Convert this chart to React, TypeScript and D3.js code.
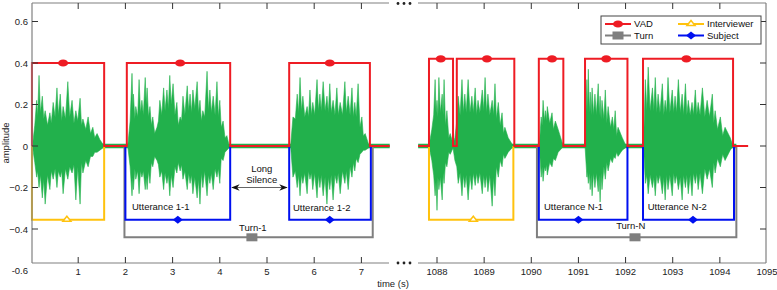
import React from 'react';
import * as d3 from 'd3';

// ---------- tick labels ----------
const leftTicks = [1, 2, 3, 4, 5, 6, 7];
const rightTicks = [1088, 1089, 1090, 1091, 1092, 1093, 1094, 1095];
const yTicks = [0.6, 0.4, 0.2, 0, -0.2, -0.4];
const yCornerLabel = -0.6;

// ---------- waveform envelopes [t, upper, lower] ----------
const waveL1: [number, number, number][] = [
  [0.03, 0, 0], [0.08, 0.1, -0.08], [0.12, 0.22, -0.15], [0.14, 0.14, -0.12], [0.17, 0.34, -0.2], [0.2, 0.16, -0.14],
  [0.24, 0.24, -0.25], [0.27, 0.13, -0.16], [0.3, 0.17, -0.28], [0.35, 0.1, -0.14], [0.4, 0.16, -0.21], [0.43, 0.11, -0.12],
  [0.47, 0.21, -0.16], [0.51, 0.14, -0.11], [0.55, 0.28, -0.2], [0.58, 0.15, -0.12], [0.62, 0.25, -0.15], [0.65, 0.12, -0.12],
  [0.68, 0.19, -0.23], [0.73, 0.13, -0.11], [0.78, 0.31, -0.16], [0.82, 0.14, -0.1], [0.87, 0.22, -0.13], [0.91, 0.11, -0.09],
  [0.95, 0.17, -0.26], [0.99, 0.12, -0.1], [1.04, 0.23, -0.28], [1.07, 0.1, -0.08], [1.1, 0.13, -0.13], [1.16, 0.08, -0.07],
  [1.21, 0.14, -0.1], [1.26, 0.06, -0.05], [1.31, 0.09, -0.05], [1.35, 0.04, -0.03], [1.4, 0.06, -0.03], [1.46, 0.03, -0.02],
  [1.52, 0.01, -0.01],
];
const waveL2: [number, number, number][] = [
  [2.05, 0, 0], [2.1, 0.12, -0.1], [2.14, 0.35, -0.24], [2.16, 0.18, -0.15], [2.17, 0.25, -0.21], [2.2, 0.13, -0.11],
  [2.22, 0.19, -0.16], [2.26, 0.14, -0.12], [2.29, 0.32, -0.23], [2.32, 0.16, -0.12], [2.35, 0.22, -0.15], [2.38, 0.15, -0.12],
  [2.42, 0.33, -0.21], [2.44, 0.2, -0.15], [2.46, 0.28, -0.21], [2.49, 0.14, -0.12], [2.52, 0.19, -0.18], [2.55, 0.1, -0.08],
  [2.58, 0.14, -0.1], [2.62, 0.06, -0.05], [2.67, 0.09, -0.07], [2.7, 0.12, -0.09], [2.73, 0.22, -0.15], [2.77, 0.15, -0.12],
  [2.81, 0.28, -0.21], [2.84, 0.17, -0.13], [2.88, 0.27, -0.18], [2.91, 0.18, -0.14], [2.94, 0.34, -0.24], [2.97, 0.2, -0.14],
  [3.01, 0.3, -0.2], [3.05, 0.15, -0.1], [3.09, 0.21, -0.13], [3.12, 0.1, -0.08], [3.16, 0.14, -0.12], [3.19, 0.12, -0.09],
  [3.22, 0.24, -0.16], [3.26, 0.15, -0.12], [3.31, 0.29, -0.21], [3.34, 0.17, -0.13], [3.37, 0.25, -0.18], [3.4, 0.16, -0.14],
  [3.43, 0.27, -0.23], [3.47, 0.18, -0.15], [3.52, 0.31, -0.25], [3.55, 0.16, -0.16], [3.58, 0.22, -0.28], [3.61, 0.12, -0.13],
  [3.64, 0.17, -0.2], [3.68, 0.14, -0.12], [3.73, 0.36, -0.24], [3.76, 0.17, -0.14], [3.79, 0.27, -0.18], [3.82, 0.16, -0.13],
  [3.86, 0.24, -0.21], [3.9, 0.15, -0.11], [3.94, 0.31, -0.15], [3.97, 0.14, -0.11], [4.0, 0.22, -0.18], [4.03, 0.09, -0.06],
  [4.07, 0.12, -0.07], [4.11, 0.04, -0.03], [4.15, 0.05, -0.02], [4.19, 0.01, -0.01],
];
const waveL3: [number, number, number][] = [
  [5.5, 0, 0], [5.55, 0.14, -0.15], [5.6, 0.13, -0.12], [5.64, 0.25, -0.2], [5.67, 0.16, -0.14], [5.7, 0.33, -0.24],
  [5.73, 0.17, -0.14], [5.76, 0.24, -0.18], [5.8, 0.14, -0.13], [5.85, 0.19, -0.23], [5.88, 0.14, -0.12], [5.91, 0.27, -0.16],
  [5.94, 0.15, -0.13], [5.97, 0.21, -0.21], [6.01, 0.15, -0.13], [6.06, 0.32, -0.25], [6.09, 0.17, -0.14], [6.12, 0.25, -0.2],
  [6.15, 0.17, -0.14], [6.19, 0.31, -0.24], [6.23, 0.17, -0.15], [6.27, 0.24, -0.28], [6.3, 0.16, -0.15], [6.33, 0.3, -0.21],
  [6.36, 0.16, -0.14], [6.4, 0.22, -0.26], [6.44, 0.15, -0.14], [6.48, 0.28, -0.18], [6.51, 0.15, -0.13], [6.55, 0.21, -0.23],
  [6.6, 0.15, -0.12], [6.65, 0.31, -0.18], [6.68, 0.16, -0.12], [6.72, 0.24, -0.21], [6.76, 0.15, -0.1], [6.8, 0.28, -0.15],
  [6.83, 0.14, -0.08], [6.86, 0.21, -0.12], [6.89, 0.14, -0.06], [6.93, 0.3, -0.08], [6.97, 0.09, -0.04], [7.01, 0.14, -0.03],
  [7.04, 0.05, -0.02], [7.08, 0.06, -0.02], [7.15, 0.01, -0.01],
];
const waveR1: [number, number, number][] = [
  [1087.83, 0, 0], [1087.89, 0.08, -0.07], [1087.93, 0.15, -0.14], [1087.96, 0.32, -0.24], [1087.98, 0.16, -0.17],
  [1088.0, 0.22, -0.31], [1088.02, 0.14, -0.15], [1088.04, 0.33, -0.21], [1088.07, 0.16, -0.15], [1088.11, 0.25, -0.26],
  [1088.13, 0.15, -0.13], [1088.15, 0.32, -0.18], [1088.18, 0.1, -0.08], [1088.21, 0.17, -0.1], [1088.25, 0.04, -0.03],
  [1088.28, 0.06, -0.04], [1088.34, 0.01, -0.01], [1088.38, 0.04, -0.07], [1088.42, 0.12, -0.1], [1088.45, 0.24, -0.18],
  [1088.49, 0.15, -0.13], [1088.53, 0.32, -0.24], [1088.56, 0.16, -0.14], [1088.59, 0.25, -0.2], [1088.62, 0.16, -0.14],
  [1088.66, 0.32, -0.26], [1088.7, 0.16, -0.14], [1088.74, 0.24, -0.21], [1088.77, 0.16, -0.13], [1088.81, 0.28, -0.19],
  [1088.84, 0.15, -0.13], [1088.87, 0.22, -0.18], [1088.91, 0.16, -0.13], [1088.96, 0.27, -0.23], [1088.99, 0.17, -0.14],
  [1089.02, 0.33, -0.2], [1089.05, 0.16, -0.14], [1089.08, 0.25, -0.22], [1089.12, 0.15, -0.14], [1089.17, 0.22, -0.29],
  [1089.2, 0.15, -0.15], [1089.23, 0.3, -0.24], [1089.26, 0.13, -0.1], [1089.3, 0.21, -0.15], [1089.34, 0.1, -0.07],
  [1089.38, 0.16, -0.1], [1089.41, 0.06, -0.04], [1089.44, 0.09, -0.06], [1089.51, 0.04, -0.03], [1089.59, 0.01, -0.01],
];
const waveR2: [number, number, number][] = [
  [1090.17, 0, 0], [1090.21, 0.14, -0.15], [1090.23, 0.1, -0.1], [1090.25, 0.22, -0.17], [1090.28, 0.12, -0.1],
  [1090.3, 0.17, -0.12], [1090.32, 0.12, -0.09], [1090.34, 0.19, -0.14], [1090.39, 0.11, -0.08], [1090.44, 0.16, -0.1],
  [1090.47, 0.08, -0.06], [1090.51, 0.12, -0.07], [1090.57, 0.08, -0.03], [1090.65, 0.02, -0.01], [1090.69, 0, 0],
];
const waveR3: [number, number, number][] = [
  [1091.14, 0, 0], [1091.18, 0.32, -0.15], [1091.19, 0.16, -0.12], [1091.21, 0.37, -0.18], [1091.23, 0.16, -0.13],
  [1091.25, 0.26, -0.21], [1091.27, 0.15, -0.14], [1091.29, 0.28, -0.24], [1091.32, 0.15, -0.13], [1091.35, 0.25, -0.2],
  [1091.38, 0.15, -0.13], [1091.42, 0.3, -0.22], [1091.44, 0.15, -0.14], [1091.46, 0.24, -0.27], [1091.48, 0.13, -0.13],
  [1091.5, 0.22, -0.21], [1091.54, 0.13, -0.1], [1091.57, 0.27, -0.16], [1091.6, 0.11, -0.08], [1091.63, 0.19, -0.12],
  [1091.68, 0.09, -0.06], [1091.72, 0.14, -0.08], [1091.75, 0.08, -0.05], [1091.78, 0.17, -0.06], [1091.81, 0.05, -0.03],
  [1091.84, 0.09, -0.05], [1091.93, 0.04, -0.02], [1091.99, 0.01, -0.01],
];
const waveR4: [number, number, number][] = [
  [1092.38, 0, 0], [1092.42, 0.32, -0.18], [1092.45, 0.17, -0.14], [1092.48, 0.38, -0.23], [1092.52, 0.17, -0.14],
  [1092.57, 0.28, -0.2], [1092.6, 0.17, -0.15], [1092.63, 0.33, -0.24], [1092.66, 0.16, -0.14], [1092.69, 0.25, -0.18],
  [1092.73, 0.16, -0.14], [1092.78, 0.3, -0.23], [1092.81, 0.15, -0.15], [1092.84, 0.22, -0.26], [1092.87, 0.16, -0.14],
  [1092.9, 0.33, -0.21], [1092.94, 0.16, -0.14], [1092.99, 0.27, -0.24], [1093.02, 0.16, -0.13], [1093.05, 0.24, -0.18],
  [1093.08, 0.16, -0.14], [1093.12, 0.32, -0.21], [1093.16, 0.16, -0.15], [1093.2, 0.25, -0.26], [1093.23, 0.15, -0.14],
  [1093.27, 0.3, -0.2], [1093.3, 0.15, -0.14], [1093.33, 0.22, -0.23], [1093.37, 0.15, -0.14], [1093.41, 0.21, -0.24],
  [1093.44, 0.15, -0.13], [1093.48, 0.27, -0.18], [1093.51, 0.15, -0.13], [1093.54, 0.21, -0.21], [1093.58, 0.15, -0.13],
  [1093.63, 0.28, -0.23], [1093.68, 0.14, -0.11], [1093.73, 0.22, -0.16], [1093.78, 0.14, -0.11], [1093.84, 0.25, -0.2],
  [1093.87, 0.11, -0.08], [1093.9, 0.17, -0.13], [1093.95, 0.08, -0.06], [1094.01, 0.14, -0.1], [1094.06, 0.05, -0.04],
  [1094.11, 0.09, -0.07], [1094.22, 0.04, -0.02], [1094.28, 0, 0],
];
const noiseLeft = [0.0, 7.6];
const noiseRight = [1087.6, 1094.35];
const noiseAmp = 0.011;

// ---------- VAD ----------
const vadLeft = [[0.02, 1.55], [2.03, 4.22], [5.47, 7.18]];
const vadLeftLevel = 0.4;
const vadLeftMarkers = [0.68, 3.16, 6.33];
const vadLeftExtent = [0.02, 7.6];
const vadRight = [[1087.83, 1088.34], [1088.42, 1089.64], [1090.16, 1090.68], [1091.14, 1092.04], [1092.37, 1094.28]];
const vadRightLevel = 0.42;
const vadRightMarkers = [1088.08, 1089.06, 1090.44, 1091.59, 1093.29];
const vadRightExtent = [1087.6, 1094.6];

// ---------- Interviewer ----------
const interLeft = [[0.02, 1.55]];
const interLeftMarkers = [0.76];
const interRight = [[1087.83, 1089.62]];
const interRightMarkers = [1088.77];
const interLevel = -0.355;

// ---------- Subject ----------
const subjLeft = [[2.0, 4.22], [5.47, 7.2]];
const subjLeftMarkers = [3.11, 6.33];
const subjRight = [[1090.16, 1092.04], [1092.37, 1094.3]];
const subjRightMarkers = [1091.0, 1093.43];
const subjLevel = -0.355;

// ---------- Turn ----------
const turnLeft = [[1.98, 7.24]];
const turnLeftMarkers = [4.68];
const turnRight = [[1090.12, 1094.35]];
const turnRightMarkers = [1092.2];
const turnLevel = -0.44;

// ---------- annotations ----------
const uttLabelsLeft = [{ t: 2.14, v: -0.293, text: 'Utterance 1-1' }, { t: 5.55, v: -0.298, text: 'Utterance 1-2' }];
const uttLabelsRight = [{ t: 1090.27, v: -0.293, text: 'Utterance N-1' }, { t: 1092.47, v: -0.293, text: 'Utterance N-2' }];
const turnLabelLeft = { t: 4.7, v: -0.392, text: 'Turn-1' };
const turnLabelRight = { t: 1092.11, v: -0.385, text: 'Turn-N' };
const silence = { t0: 4.26, t1: 5.42, v: -0.2, tText: 4.89, lines: ['Long', 'Silence'], v1: -0.11, v2: -0.163 };

const legendItems = [
  { name: 'VAD', col: 0, row: 0 },
  { name: 'Turn', col: 0, row: 1 },
  { name: 'Interviewer', col: 1, row: 0 },
  { name: 'Subject', col: 1, row: 1 },
];

const RED = '#ee1c24';
const BLUE = '#0010f0';
const YELLOW = '#ffc20e';
const GRAY = '#7f7f7f';
const GREEN = '#22b14c';
const AXIS = '#808080';
const FONT = 'Liberation Sans, Arial, sans-serif';

const W = 777, H = 290;
const yTop = 3, yBottom = 263;
const xs = d3.scaleLinear().domain([0, 7]).range([31, 361.4]);
const xr = d3.scaleLinear().domain([1088, 1095]).range([437, 767]);
const ys = d3.scaleLinear().domain([0, 0.4]).range([146, 63]);
const leftX0 = 32, leftX1 = 389, rightX0 = 418, rightX1 = 766;

function stepPts(intervals: number[][], level: number, extent?: number[]) {
  const pts: [number, number][] = [];
  if (extent) pts.push([extent[0], 0]);
  intervals.forEach(([a, b]) => {
    pts.push([a, 0], [a, level], [b, level], [b, 0]);
  });
  if (extent) pts.push([extent[1], 0]);
  return pts;
}

function Marker({ kind, x, y }: { kind: string; x: number; y: number }) {
  if (kind === 'VAD') return <ellipse cx={x} cy={y} rx={5} ry={3.6} fill={RED} />;
  if (kind === 'Turn') return <rect x={x - 5.5} y={y - 4} width={11} height={8} fill={GRAY} />;
  if (kind === 'Interviewer')
    return <path d={`M${x - 4},${y + 1.5} L${x},${y - 3.5} L${x + 4},${y + 1.5} Z`} fill="#fff" stroke={YELLOW} strokeWidth={1.5} />;
  return <path d={`M${x - 5},${y} L${x},${y - 4} L${x + 5},${y} L${x},${y + 4} Z`} fill={BLUE} />;
}

function Panel({ x, waves, noise, vad, vadLevel, vadMarkers, vadExtent, inter, interMarkers, subj, subjMarkers, turn, turnMarkers }: any) {
  const line = d3.line<[number, number]>().x((d) => x(d[0])).y((d) => ys(d[1]));
  const area = d3.area<[number, number, number]>().x((d) => x(d[0])).y0((d) => ys(d[2])).y1((d) => ys(d[1]));
  const noiseData: [number, number, number][] = [[noise[0], noiseAmp, -noiseAmp], [noise[1], noiseAmp, -noiseAmp]];
  return (
    <g>
      <path d={area(noiseData) || ''} fill={GREEN} />
      {waves.map((w: any, i: number) => (
        <path key={i} d={area(w) || ''} fill={GREEN} stroke={GREEN} strokeWidth={0.6} />
      ))}
      {turn.map((iv: number[], i: number) => (
        <path key={'t' + i} d={line(stepPts([iv], turnLevel)) || ''} fill="none" stroke={GRAY} strokeWidth={2} />
      ))}
      {inter.map((iv: number[], i: number) => (
        <path key={'i' + i} d={line(stepPts([iv], interLevel)) || ''} fill="none" stroke={YELLOW} strokeWidth={2} />
      ))}
      {subj.map((iv: number[], i: number) => (
        <path key={'s' + i} d={line(stepPts([iv], subjLevel)) || ''} fill="none" stroke={BLUE} strokeWidth={2} />
      ))}
      <path d={line(stepPts(vad, vadLevel, vadExtent)) || ''} fill="none" stroke={RED} strokeWidth={2} />
      {turnMarkers.map((t: number, i: number) => <Marker key={'tm' + i} kind="Turn" x={x(t)} y={ys(turnLevel)} />)}
      {interMarkers.map((t: number, i: number) => <Marker key={'im' + i} kind="Interviewer" x={x(t)} y={ys(interLevel)} />)}
      {subjMarkers.map((t: number, i: number) => <Marker key={'sm' + i} kind="Subject" x={x(t)} y={ys(subjLevel)} />)}
      {vadMarkers.map((t: number, i: number) => <Marker key={'vm' + i} kind="VAD" x={x(t)} y={ys(vadLevel)} />)}
    </g>
  );
}

export default function App() {
  const tickLen = 6;
  const legX = 601, legY = 16, legW = 160, legH = 28;
  const colX = [605, 678];
  const rowY = [24, 35.5];
  const colorOf: Record<string, string> = { VAD: RED, Turn: GRAY, Interviewer: YELLOW, Subject: BLUE };
  return (
    <svg width={W} height={H} style={{ position: 'absolute', left: 0, top: 0, background: '#fff' }} fontFamily={FONT}>
      <defs>
        <marker id="ah" viewBox="0 0 10 10" refX="9" refY="5" markerWidth="7" markerHeight="7" orient="auto-start-reverse">
          <path d="M0,1 L10,5 L0,9 L3,5 Z" fill="#111" />
        </marker>
      </defs>

      <Panel x={xs} waves={[waveL1, waveL2, waveL3]} noise={noiseLeft}
        vad={vadLeft} vadLevel={vadLeftLevel} vadMarkers={vadLeftMarkers} vadExtent={vadLeftExtent}
        inter={interLeft} interMarkers={interLeftMarkers} subj={subjLeft} subjMarkers={subjLeftMarkers}
        turn={turnLeft} turnMarkers={turnLeftMarkers} />
      <Panel x={xr} waves={[waveR1, waveR2, waveR3, waveR4]} noise={noiseRight}
        vad={vadRight} vadLevel={vadRightLevel} vadMarkers={vadRightMarkers} vadExtent={vadRightExtent}
        inter={interRight} interMarkers={interRightMarkers} subj={subjRight} subjMarkers={subjRightMarkers}
        turn={turnRight} turnMarkers={turnRightMarkers} />

      <g stroke={AXIS} strokeWidth={1.2} fill="none">
        <line x1={leftX0} y1={yTop} x2={leftX0} y2={yBottom} />
        <line x1={leftX0} y1={yTop} x2={leftX1} y2={yTop} />
        <line x1={leftX0} y1={yBottom} x2={leftX1} y2={yBottom} />
        <line x1={rightX1} y1={yTop} x2={rightX1} y2={yBottom} />
        <line x1={rightX0} y1={yTop} x2={rightX1} y2={yTop} />
        <line x1={rightX0} y1={yBottom} x2={rightX1} y2={yBottom} />
      </g>
      {[398, 404, 410].map((dx) => (
        <g key={dx}>
          <circle cx={dx} cy={yTop + 0.5} r={1.4} fill="#222" />
          <circle cx={dx} cy={yBottom} r={1.4} fill="#222" />
        </g>
      ))}

      <g stroke="#333" strokeWidth={1}>
        {leftTicks.map((t) => (
          <g key={t}>
            <line x1={xs(t)} x2={xs(t)} y1={yBottom} y2={yBottom - tickLen} />
            <line x1={xs(t)} x2={xs(t)} y1={yTop} y2={yTop + tickLen} />
          </g>
        ))}
        {rightTicks.slice(0, -1).map((t) => (
          <g key={t}>
            <line x1={xr(t)} x2={xr(t)} y1={yBottom} y2={yBottom - tickLen} />
            <line x1={xr(t)} x2={xr(t)} y1={yTop} y2={yTop + tickLen} />
          </g>
        ))}
        {yTicks.map((v) => (
          <g key={v}>
            <line x1={leftX0} x2={leftX0 + tickLen} y1={ys(v)} y2={ys(v)} />
            <line x1={rightX1} x2={rightX1 - tickLen} y1={ys(v)} y2={ys(v)} />
          </g>
        ))}
      </g>

      <g fontSize={9.5} fill="#222">
        {leftTicks.map((t) => (
          <text key={t} x={xs(t)} y={275} textAnchor="middle">{t}</text>
        ))}
        {rightTicks.map((t) => (
          <text key={t} x={xr(t)} y={275} textAnchor="middle">{t}</text>
        ))}
        {yTicks.map((v) => (
          <text key={v} x={28} y={ys(v) + 3.5} textAnchor="end">{d3.format('')(v)}</text>
        ))}
        <text x={28} y={ys(yCornerLabel) + 3} textAnchor="end">{yCornerLabel}</text>
        <text x={393} y={287} textAnchor="middle">time (s)</text>
        <text transform={`translate(9,143) rotate(-90)`} textAnchor="middle">amplitude</text>
      </g>

      <g fontSize={9.5} fill="#111">
        {uttLabelsLeft.map((l) => <text key={l.text} x={xs(l.t)} y={ys(l.v) + 3.5}>{l.text}</text>)}
        {uttLabelsRight.map((l) => <text key={l.text} x={xr(l.t)} y={ys(l.v) + 3.5}>{l.text}</text>)}
        <text x={xs(turnLabelLeft.t)} y={ys(turnLabelLeft.v) + 3.5} textAnchor="middle">{turnLabelLeft.text}</text>
        <text x={xr(turnLabelRight.t)} y={ys(turnLabelRight.v) + 3.5} textAnchor="middle">{turnLabelRight.text}</text>
        <text x={xs(silence.tText)} y={ys(silence.v1) + 3.5} textAnchor="middle">{silence.lines[0]}</text>
        <text x={xs(silence.tText)} y={ys(silence.v2) + 3.5} textAnchor="middle">{silence.lines[1]}</text>
      </g>
      <line x1={xs(silence.t0)} x2={xs(silence.t1)} y1={ys(silence.v)} y2={ys(silence.v)} stroke="#666" strokeWidth={1.2}
        markerStart="url(#ah)" markerEnd="url(#ah)" />

      <rect x={legX} y={legY} width={legW} height={legH} fill="#fff" stroke="#444" strokeWidth={1} />
      {legendItems.map((it) => {
        const x0 = colX[it.col];
        const y0 = rowY[it.row];
        return (
          <g key={it.name}>
            <line x1={x0} x2={x0 + 26} y1={y0} y2={y0} stroke={colorOf[it.name]} strokeWidth={2} />
            <Marker kind={it.name} x={x0 + 13} y={y0} />
            <text x={x0 + 29} y={y0 + 3.3} fontSize={9.5} fill="#111">{it.name}</text>
          </g>
        );
      })}
    </svg>
  );
}
